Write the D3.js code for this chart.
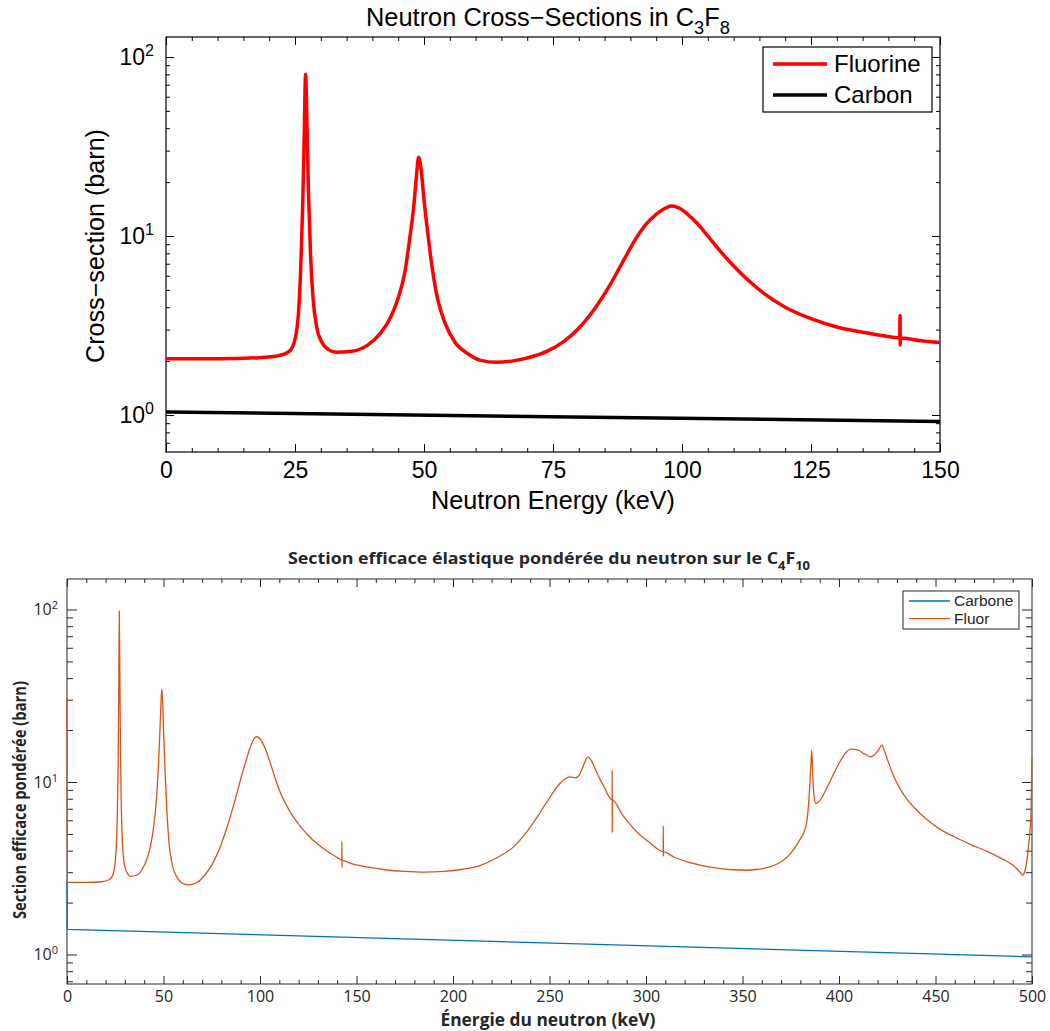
<!DOCTYPE html>
<html><head><meta charset="utf-8">
<script src="https://cdn.jsdelivr.net/npm/d3@7"></script>
<style>body{margin:0;background:#fff}</style>
</head><body>
<svg id="chart" width="1050" height="1031" xmlns="http://www.w3.org/2000/svg"></svg>
<script>
// ---------------- DATA ----------------
// Top panel: C3F8
const topFluorineEnergy = [0,10,18,22,24,25,25.7,26.1,26.5,26.8,27.05,27.3,27.6,28.0,28.5,29.2,30.2,31.5,33,36,39,41.5,43.5,45,46.3,47.3,48,48.5,48.95,49.4,50,50.8,51.6,52.6,54,56,58.5,61,64,67,70,74,77,80,83,86,89,91,93,95,97,98,99.5,101,103,105,107,110,113,116,120,125,130,135,139,142.2,142.25,142.3,142.35,146,150];
const topFluorineXS     = [2.06,2.06,2.09,2.15,2.28,2.65,3.8,6.5,15,38,80,45,18,8,4.5,3.1,2.55,2.32,2.24,2.27,2.45,2.85,3.5,4.5,6.3,10,14.5,21,27.5,24,16,10,6.6,4.5,3.3,2.55,2.2,2.02,1.97,2.0,2.08,2.28,2.56,3.05,3.9,5.3,7.6,9.6,11.6,13.2,14.4,14.7,14.3,13.3,11.7,10.0,8.5,6.8,5.6,4.75,4.0,3.45,3.1,2.9,2.77,2.70,3.6,2.46,2.69,2.61,2.54];
const topCarbonEnergy = [0,150];
const topCarbonXS     = [1.04,0.92];
const topSeriesNames  = ["Fluorine","Carbon"];
const topXTicks       = [0,25,50,75,100,125,150];
const topXMinorStep   = 5;

// Bottom panel: C4F10
const bottomCarboneEnergy = [0,0.2,500];
const bottomCarboneXS     = [2.62,1.40,0.97];
const bottomFluorEnergy = [0,0.2,10,18,22,24,25.3,26.0,26.5,26.85,
  27.1,27.35,27.7,28.1,28.7,29.6,31,33,36,39,
  41.5,43.5,45,46.3,47.3,48,48.6,49.1,49.5,50.1,
  50.9,51.7,52.9,54.6,57,60,63,67,71,75,
  79,83,87,90,93,95.5,98,100,102,104,
  106,108,110,113,116,120,125,130,135,140,
  142.4,142.45,142.5,142.55,147,152,165,175,185,195,
  205,214,222,231.5,238,245.3,251,255.7,258,260.5,
  263.5,265.5,267.5,269.9,271.7,274.7,278,282.4,282.45,282.5,
  282.55,288,295.5,302,308.9,308.95,309,309.05,315,321,
  328,336,345,352,358,364.6,370,375,379,382.8,
  384.6,385.5,385.9,386.4,387.1,388,390,394,398,402,
  406,410,413,416.5,419,421,422.2,423.5,425,428,
  431,435,440,446,452,460,468,477,485,490,
  493,495.2,496.5,497.8,499,499.5,500];
const bottomFluorXS = [31,2.62,2.62,2.64,2.72,2.95,3.8,6,13,38,
  98,45,16,7.5,4.5,3.4,3.0,2.84,2.88,3.12,
  3.6,4.4,5.6,7.8,12,18,27,34.5,30,19,
  11,7,4.4,3.3,2.8,2.58,2.53,2.6,2.85,3.3,
  4.1,5.5,7.8,10.4,13.6,16.5,18.3,17.8,16.3,14.3,
  12.2,10.4,9.0,7.6,6.6,5.7,4.9,4.35,3.95,3.65,
  3.52,4.51,3.2,3.51,3.38,3.27,3.1,3.03,3.0,3.03,
  3.12,3.28,3.6,4.22,5.1,6.7,8.4,9.9,10.4,10.7,
  10.6,11.0,12.4,14.0,13.3,11.2,9.5,7.9,11.7,5.08,
  7.85,6.4,5.1,4.45,3.95,5.56,3.72,3.93,3.65,3.45,
  3.3,3.18,3.1,3.08,3.12,3.23,3.45,3.86,4.5,5.5,
  8.5,13,15.3,11,8.2,7.5,7.8,9.39,11.6,14.0,
  15.5,15.3,14.6,14.0,14.6,15.6,16.4,15.2,13.6,11.0,
  9.4,8.0,6.9,6.0,5.35,4.8,4.35,3.95,3.56,3.3,
  3.07,2.89,3.1,3.86,5.3,6.6,13.8];
const bottomSeriesNames = ["Carbone","Fluor"];
const bottomXTicks      = [0,50,100,150,200,250,300,350,400,450,500];
const bottomXMinorStep  = 10;

const yDecadeExponents = [0,1,2];
const yMinorMultipliers = [2,3,4,5,6,7,8,9];

// ---------------- DRAWING ----------------
const svg = d3.select("#chart");

function addParts(textSel, parts, subSize, subShift) {
  let shifted = 0;
  parts.forEach(p => {
    const t = textSel.append("tspan").text(p.t);
    if (p.sub && !shifted) { t.attr("dy", subShift).attr("font-size", subSize); shifted = 1; }
    else if (p.sub && shifted) { t.attr("font-size", subSize); }
    else if (!p.sub && shifted) { t.attr("dy", -subShift); shifted = 0; }
  });
}

function drawPanel(o) {
  const x = d3.scaleLinear().domain(o.xDomain).range([o.left, o.right]);
  const ya = d3.scaleLog().domain([1, 100]).range([o.y1, o.y100]);
  const y = d3.scaleLog().domain([ya.invert(o.bottom), ya.invert(o.top)]).range([o.bottom, o.top]);
  const [ylo, yhi] = y.domain();

  const g = svg.append("g");
  const id = "clip" + o.id;
  svg.append("clipPath").attr("id", id).append("rect")
    .attr("x", o.left - 2).attr("y", o.top).attr("width", o.right - o.left + 4).attr("height", o.bottom - o.top);

  g.append("rect").attr("x", o.left).attr("y", o.top).attr("width", o.right - o.left).attr("height", o.bottom - o.top)
    .attr("fill", "#fff");

  const xMinor = d3.range(o.xDomain[0], o.xDomain[1] + 1e-9, o.xMinorStep).filter(v => !o.xTicks.includes(v));
  const yMajor = yDecadeExponents.map(e => Math.pow(10, e));
  const yMinor = [];
  [-1, 0, 1, 2].forEach(e => yMinorMultipliers.forEach(m => {
    const v = m * Math.pow(10, e);
    if (v > ylo && v < yhi) yMinor.push(v);
  }));

  function styleAxis(sel) {
    sel.select(".domain").remove();
    sel.attr("color", o.ink).attr("font-family", o.font).attr("font-size", o.tickFont);
    sel.selectAll(".tick line").attr("stroke-width", o.tickWidth);
    sel.selectAll(".tick text").attr("fill", o.ink);
  }
  const ax = (axis, tx, ty) => g.append("g").attr("transform", `translate(${tx},${ty})`).call(axis).call(styleAxis);

  ax(d3.axisBottom(x).tickValues(xMinor).tickSizeInner(-o.xMinorLen).tickSizeOuter(0).tickFormat(""), 0, o.bottom);
  ax(d3.axisBottom(x).tickValues(o.xTicks).tickSizeInner(-o.xMajorLen).tickSizeOuter(0).tickPadding(o.xPad).tickFormat(d3.format("d")), 0, o.bottom);
  ax(d3.axisTop(x).tickValues(xMinor).tickSizeInner(-o.xMinorLen).tickSizeOuter(0).tickFormat(""), 0, o.top);
  ax(d3.axisTop(x).tickValues(o.xTicks).tickSizeInner(-o.xMajorLen).tickSizeOuter(0).tickFormat(""), 0, o.top);
  ax(d3.axisLeft(y).tickValues(yMinor).tickSizeInner(-o.yMinorLen).tickSizeOuter(0).tickFormat(""), o.left, 0);
  const yl = ax(d3.axisLeft(y).tickValues(yMajor).tickSizeInner(-o.yMajorLen).tickSizeOuter(0).tickPadding(o.yPad).tickFormat(() => "10"), o.left, 0);
  yl.selectAll(".tick text").append("tspan").attr("dy", "-0.55em").attr("font-size", o.supFont)
    .text(d => Math.round(Math.log10(d)));
  ax(d3.axisRight(y).tickValues(yMinor).tickSizeInner(-o.yMinorLen).tickSizeOuter(0).tickFormat(""), o.right, 0);
  ax(d3.axisRight(y).tickValues(yMajor).tickSizeInner(-o.yMajorLen).tickSizeOuter(0).tickFormat(""), o.right, 0);

  g.append("rect").attr("x", o.left).attr("y", o.top).attr("width", o.right - o.left).attr("height", o.bottom - o.top)
    .attr("fill", "none").attr("stroke", o.ink).attr("stroke-width", o.boxWidth);

  o.series.forEach(s => {
    const line = d3.line().x(d => x(d[0])).y(d => y(d[1])).curve(s.curve);
    const pts = s.e.map((e, i) => [e, s.v[i]]);
    g.append("path").attr("d", line(pts)).attr("fill", "none").attr("stroke", s.color)
      .attr("stroke-width", s.width).attr("stroke-linejoin", "round").attr("clip-path", `url(#${id})`);
  });

  const tt = g.append("text").attr("x", o.title.x).attr("y", o.title.y).attr("text-anchor", "middle")
    .attr("font-family", o.font).attr("font-size", o.title.size).attr("font-weight", o.title.weight).attr("fill", o.ink);
  addParts(tt, o.title.parts, o.title.subSize, o.title.subShift);
  if (o.title.len) tt.attr("textLength", o.title.len).attr("lengthAdjust", "spacingAndGlyphs");

  const xl = g.append("text").attr("x", o.xLabel.x).attr("y", o.xLabel.y).attr("text-anchor", "middle")
    .attr("font-family", o.font).attr("font-size", o.xLabel.size).attr("font-weight", o.xLabel.weight).attr("fill", o.ink)
    .text(o.xLabel.text);
  if (o.xLabel.len) xl.attr("textLength", o.xLabel.len).attr("lengthAdjust", "spacingAndGlyphs");
  const ylab = g.append("text").attr("transform", `translate(${o.yLabel.x},${o.yLabel.y}) rotate(-90)`).attr("text-anchor", "middle")
    .attr("font-family", o.font).attr("font-size", o.yLabel.size).attr("font-weight", o.yLabel.weight).attr("fill", o.ink)
    .text(o.yLabel.text);
  if (o.yLabel.len) ylab.attr("textLength", o.yLabel.len).attr("lengthAdjust", "spacingAndGlyphs");

  const L = o.legend;
  g.append("rect").attr("x", L.x).attr("y", L.y).attr("width", L.w).attr("height", L.h)
    .attr("fill", "#fff").attr("stroke", o.ink).attr("stroke-width", o.boxWidth);
  L.order.forEach((si, k) => {
    const s = o.series[si];
    const yy = L.y + L.first + k * L.step;
    g.append("line").attr("x1", L.x + L.lineX0).attr("x2", L.x + L.lineX1).attr("y1", yy).attr("y2", yy)
      .attr("stroke", s.color).attr("stroke-width", L.lineWidth);
    g.append("text").attr("x", L.x + L.textX).attr("y", yy).attr("dy", "0.35em")
      .attr("font-family", L.font || o.font).attr("font-size", L.size).attr("fill", o.ink).text(s.name);
  });
}

drawPanel({
  id: "top", left: 166, right: 940, top: 37, bottom: 452, y1: 415, y100: 57,
  xDomain: [0, 150], xTicks: topXTicks, xMinorStep: topXMinorStep,
  font: "'Liberation Sans', Arial, Helvetica, sans-serif", ink: "#000",
  tickFont: 23, supFont: 16, xPad: 10, yPad: 12, tickWidth: 1,
  xMajorLen: 8, xMinorLen: 4, yMajorLen: 8, yMinorLen: 4, boxWidth: 1.2,
  series: [
    { name: topSeriesNames[0], e: topFluorineEnergy, v: topFluorineXS, color: "#ff0000", width: 3.5, curve: d3.curveMonotoneX },
    { name: topSeriesNames[1], e: topCarbonEnergy, v: topCarbonXS, color: "#000000", width: 3.5, curve: d3.curveLinear }
  ],
  title: { x: 548, y: 26, size: 25, weight: "normal", subSize: 18, subShift: 8, len: 364,
    parts: [{t: "Neutron Cross\u2212Sections in C"}, {t: "3", sub: 1}, {t: "F"}, {t: "8", sub: 1}] },
  xLabel: { x: 553, y: 509, size: 25, weight: "normal", text: "Neutron Energy (keV)", len: 244 },
  yLabel: { x: 104, y: 246, size: 25, weight: "normal", text: "Cross\u2212section (barn)", len: 234 },
  legend: { x: 763, y: 47, w: 169, h: 65, first: 17, step: 31, lineX0: 10, lineX1: 64, textX: 71, size: 24, lineWidth: 3.5, order: [0, 1] }
});

drawPanel({
  id: "bot", left: 67, right: 1032, top: 579, bottom: 984, y1: 954.5, y100: 609.5,
  xDomain: [0, 500], xTicks: bottomXTicks, xMinorStep: bottomXMinorStep,
  font: "'Open Sans', 'Noto Sans', sans-serif", ink: "#262626",
  tickFont: 16, supFont: 11, xPad: 7, yPad: 9, tickWidth: 1,
  xMajorLen: 8, xMinorLen: 4, yMajorLen: 10, yMinorLen: 6, boxWidth: 1,
  series: [
    { name: bottomSeriesNames[0], e: bottomCarboneEnergy, v: bottomCarboneXS, color: "#0072BD", width: 1.3, curve: d3.curveLinear },
    { name: bottomSeriesNames[1], e: bottomFluorEnergy, v: bottomFluorXS, color: "#D95319", width: 1.3, curve: d3.curveMonotoneX }
  ],
  title: { x: 549, y: 564, size: 16.5, weight: "bold", subSize: 12, subShift: 6, len: 522,
    parts: [{t: "Section efficace \u00e9lastique pond\u00e9r\u00e9e du neutron sur le C"}, {t: "4", sub: 1}, {t: "F"}, {t: "10", sub: 1}] },
  xLabel: { x: 548, y: 1026, size: 18, weight: "bold", text: "\u00c9nergie du neutron (keV)", len: 215 },
  yLabel: { x: 26, y: 800, size: 18, weight: "bold", text: "Section efficace pond\u00e9r\u00e9e  (barn)", len: 238 },
  legend: { x: 903, y: 591, w: 116, h: 38, first: 10, step: 17.6, lineX0: 6, lineX1: 47, textX: 51, size: 15.5,
    font: "'Liberation Sans', Arial, sans-serif", lineWidth: 1.3, order: [0, 1] }
});
</script>
</body></html>
